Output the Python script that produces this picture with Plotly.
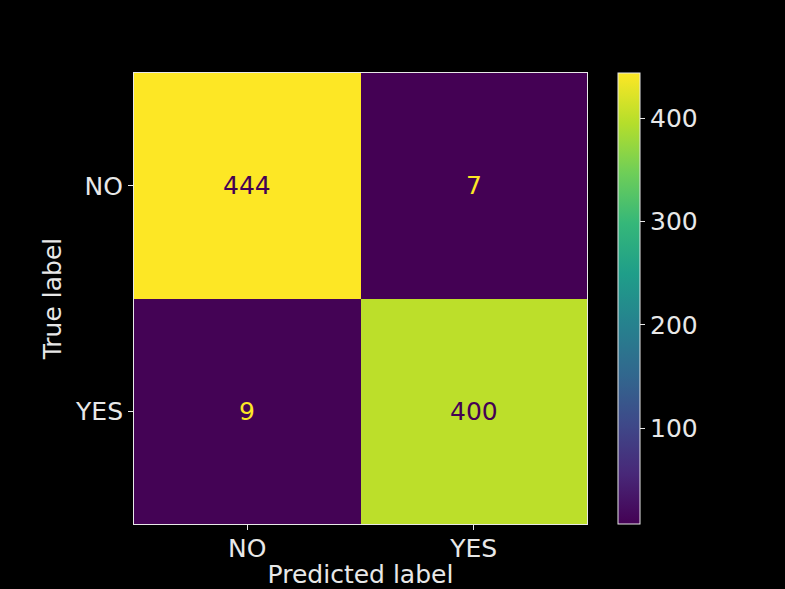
import plotly.graph_objects as go

pred_labels = ["NO", "YES"]
true_labels = ["NO", "YES"]
counts = [[444, 7],
          [9, 400]]
cbar_ticks = [100, 200, 300, 400]

zmin = min(min(r) for r in counts)
zmax = max(max(r) for r in counts)
thresh = (zmin + zmax) / 2.0

FONT = "DejaVu Sans"
FS = 25
FG = "#e8e8e8"

fig = go.Figure(go.Heatmap(
    z=counts, x=pred_labels, y=true_labels,
    colorscale="Viridis", zmin=zmin, zmax=zmax,
    xgap=0, ygap=0,
    colorbar=dict(
        x=(618 - 134) / 453, xanchor="left", xpad=0, ypad=0,
        y=0.5, yanchor="middle", len=1, lenmode="fraction",
        thickness=22, thicknessmode="pixels",
        outlinewidth=1, outlinecolor=FG,
        tickvals=cbar_ticks, ticks="outside", ticklen=5, tickwidth=1,
        tickcolor=FG, tickfont=dict(family=FONT, size=FS, color=FG),
    ),
    hoverinfo="skip",
))

for i, t in enumerate(true_labels):
    for j, p in enumerate(pred_labels):
        v = counts[i][j]
        fig.add_annotation(
            x=p, y=t, text=str(v), showarrow=False,
            font=dict(family=FONT, size=FS,
                      color="#440154" if v > thresh else "#fde725"),
        )

fig.update_xaxes(
    automargin=False,
    showline=True, linecolor=FG, linewidth=1, mirror=True,
    ticks="outside", ticklen=5, tickcolor=FG, showgrid=False, zeroline=False,
    ticklabelstandoff=-3,
    tickfont=dict(family=FONT, size=FS, color=FG),
    title=dict(text="Predicted label", font=dict(family=FONT, size=FS, color=FG),
               standoff=8),
)
fig.update_yaxes(
    automargin=False,
    autorange="reversed",
    showline=True, linecolor=FG, linewidth=1, mirror=True,
    ticks="outside", ticklen=5, tickcolor=FG, showgrid=False, zeroline=False,
    tickfont=dict(family=FONT, size=FS, color=FG),
    title=dict(text="True label", font=dict(family=FONT, size=FS, color=FG),
               standoff=6),
)

fig.update_layout(
    width=785, height=589,
    margin=dict(l=134, r=198, t=73, b=65, pad=0),
    paper_bgcolor="black", plot_bgcolor="black",
    font=dict(family=FONT, color=FG),
    showlegend=False,
)

fig.write_html("out.html")
